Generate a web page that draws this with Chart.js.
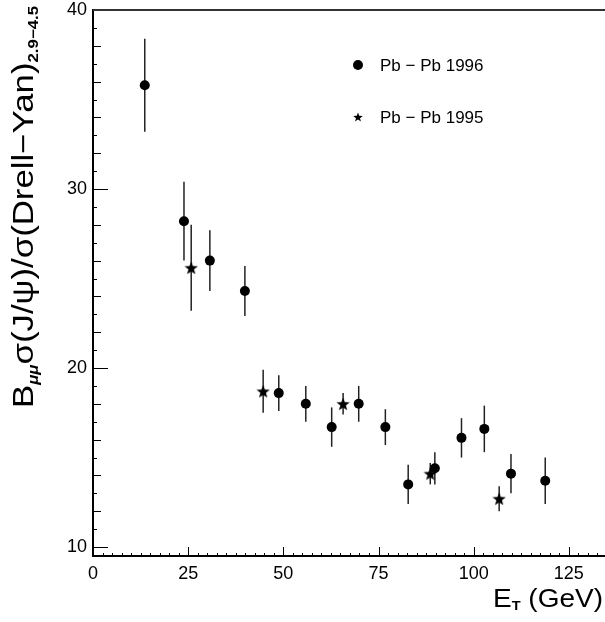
<!DOCTYPE html>
<html>
<head>
<meta charset="utf-8">
<script src="https://cdn.jsdelivr.net/npm/chart.js@4.4.1/dist/chart.umd.min.js"></script>
<style>
  html, body { margin: 0; padding: 0; background: #fff; overflow: hidden; }
  canvas { display: block; }
</style>
</head>
<body>
<canvas id="jpsiChart" width="605" height="622"></canvas>
<script>
// J/psi over Drell-Yan ratio vs transverse energy, two Pb-Pb runs
var et1996 = [13.6, 23.9, 30.7, 39.9, 48.8, 55.9, 62.7, 69.8, 76.8, 82.8, 89.8, 96.8, 102.8, 109.8, 118.8];
var ratio1996 = [35.8, 28.2, 26.0, 24.3, 18.6, 18.0, 16.7, 18.0, 16.7, 13.5, 14.4, 16.1, 16.6, 14.1, 13.7];
var err1996 = [2.6, 2.2, 1.7, 1.4, 1.0, 1.0, 1.1, 1.0, 1.0, 1.1, 0.9, 1.1, 1.3, 1.1, 1.3];

var et1995 = [25.8, 44.7, 65.7, 88.6, 106.7];
var ratio1995 = [25.6, 18.7, 18.0, 14.1, 12.7];
var err1995 = [2.4, 1.2, 0.6, 0.6, 0.7];

var xTicks = [0, 25, 50, 75, 100, 125];
var yTicks = [10, 20, 30, 40];
var legendLabels = ["Pb \u2212 Pb 1996", "Pb \u2212 Pb 1995"];

var FONT = "'Liberation Sans', Arial, Helvetica, sans-serif";

function makeStar(size) {
    var c = document.createElement("canvas");
    c.width = size;
    c.height = size;
    var g = c.getContext("2d");
    var cx = size / 2, cy = size / 2 + size * 0.05;
    var ro = size / 2, ri = ro * 0.42;
    g.beginPath();
    for (var i = 0; i < 10; i++) {
        var r = i % 2 === 0 ? ro : ri;
        var a = -Math.PI / 2 + i * Math.PI / 5;
        g.lineTo(cx + r * Math.cos(a), cy + r * Math.sin(a));
    }
    g.closePath();
    g.fillStyle = "#000";
    g.fill();
    return c;
}

var starBig = makeStar(14);
var starSmall = makeStar(10);

function toPoints(xs, ys, es) {
    return xs.map(function (x, i) {
        return { x: x, y: ys[i], err: es[i] };
    });
}

// no extra room for edge labels, the frame fills the canvas
function noPad(scale) {
    scale.paddingTop = 0;
    scale.paddingBottom = 0;
    scale.paddingLeft = 0;
    scale.paddingRight = 0;
}

// draws text pieces in a row, with subscripts, stretched along the baseline
function drawPieces(ctx, segs, stretch) {
    ctx.scale(stretch, 1);
    var cx = 0;
    segs.forEach(function (s) {
        ctx.font = s.f;
        ctx.fillText(s.t, cx, s.dy);
        cx += ctx.measureText(s.t).width;
    });
}

// vertical error bars, drawn under the markers
var errorBars = {
    id: "errorBars",
    beforeDatasetsDraw: function (chart) {
        var ctx = chart.ctx;
        var ys = chart.scales.y;
        ctx.save();
        ctx.strokeStyle = "#222";
        ctx.lineWidth = 1.5;
        chart.data.datasets.forEach(function (ds, di) {
            var meta = chart.getDatasetMeta(di);
            meta.data.forEach(function (pt, i) {
                var d = ds.data[i];
                ctx.beginPath();
                ctx.moveTo(pt.x, ys.getPixelForValue(d.y + d.err));
                ctx.lineTo(pt.x, ys.getPixelForValue(d.y - d.err));
                ctx.stroke();
            });
        });
        ctx.restore();
    }
};

// inward tick marks, top frame line, titles and legend
var frame = {
    id: "frame",
    afterDraw: function (chart) {
        var ctx = chart.ctx;
        var a = chart.chartArea;
        var xs = chart.scales.x, ys = chart.scales.y;
        ctx.save();
        ctx.strokeStyle = "#000";
        ctx.lineWidth = 1;

        // x ticks every 2.5
        for (var v = 0; v <= xs.max + 0.01; v += 2.5) {
            var px = Math.round(xs.getPixelForValue(v)) + 0.5;
            var len = (v % 25 === 0) ? 9 : 3;
            ctx.beginPath();
            ctx.moveTo(px, a.bottom);
            ctx.lineTo(px, a.bottom - len);
            ctx.stroke();
        }
        // y ticks every 1
        for (var w = 10; w <= 40; w++) {
            var py = Math.round(ys.getPixelForValue(w)) + 0.5;
            var l = (w % 10 === 0) ? 15 : (w % 2 === 0 ? 8 : 4);
            ctx.beginPath();
            ctx.moveTo(a.left, py);
            ctx.lineTo(a.left + l, py);
            ctx.stroke();
        }

        // top frame line
        ctx.strokeStyle = "#333";
        ctx.lineWidth = 2;
        ctx.beginPath();
        ctx.moveTo(a.left, a.top);
        ctx.lineTo(a.right, a.top);
        ctx.stroke();

        ctx.fillStyle = "#000";
        ctx.textBaseline = "alphabetic";

        // x title: E_T (GeV), right-aligned under the axis
        var xSegs = [
            { t: "E", f: "25px " + FONT, dy: 0 },
            { t: "T", f: "bold 13px " + FONT, dy: 3 },
            { t: " (GeV)", f: "25px " + FONT, dy: 0 }
        ];
        var xw = 0;
        xSegs.forEach(function (s) { ctx.font = s.f; xw += ctx.measureText(s.t).width; });
        var xStretch = 1.12;
        ctx.translate(603 - xw * xStretch, 607);
        drawPieces(ctx, xSegs, xStretch);
        ctx.setTransform(1, 0, 0, 1, 0, 0);

        // y title, rotated
        var ySegs = [
            { t: "B", f: "29px " + FONT, dy: 0 },
            { t: "\u03bc\u03bc", f: "italic bold 14px " + FONT, dy: 5 },
            { t: "\u03c3(J/\u03c8)/\u03c3(Drell\u2212Yan)", f: "29px " + FONT, dy: 0 },
            { t: "2.9\u22124.5", f: "bold 14px " + FONT, dy: 5 }
        ];
        ctx.translate(33, 408);
        ctx.rotate(-Math.PI / 2);
        drawPieces(ctx, ySegs, 1.2);
        ctx.setTransform(1, 0, 0, 1, 0, 0);

        // legend
        ctx.font = "17px " + FONT;
        ctx.textBaseline = "middle";
        ctx.beginPath();
        ctx.arc(358, 65, 5, 0, Math.PI * 2);
        ctx.fill();
        ctx.fillText(legendLabels[0], 380, 66);
        ctx.drawImage(starSmall, 353, 112);
        ctx.fillText(legendLabels[1], 380, 118);

        ctx.restore();
    }
};

document.addEventListener("DOMContentLoaded", function () {
    var ctx = document.getElementById("jpsiChart").getContext("2d");

    var myChart = new Chart(ctx, {
        type: "scatter",
        data: {
            datasets: [
                {
                    label: legendLabels[0],
                    data: toPoints(et1996, ratio1996, err1996),
                    pointStyle: "circle",
                    pointRadius: 5,
                    backgroundColor: "#000",
                    borderColor: "#000",
                    borderWidth: 0,
                },
                {
                    label: legendLabels[1],
                    data: toPoints(et1995, ratio1995, err1995),
                    pointStyle: starBig,
                    pointRadius: 7,
                    backgroundColor: "#000",
                    borderColor: "#000",
                },
            ],
        },
        options: {
            responsive: false,
            animation: false,
            layout: {
                autoPadding: false,
                padding: { left: 0, right: 0, top: 10, bottom: 0 },
            },
            plugins: {
                legend: { display: false },
                tooltip: { enabled: false },
            },
            scales: {
                x: {
                    type: "linear",
                    min: 0,
                    max: 134.5,
                    afterBuildTicks: function (scale) {
                        scale.ticks = xTicks.map(function (v) { return { value: v }; });
                    },
                    afterFit: function (scale) {
                        scale.height = 66;
                        noPad(scale);
                    },
                    grid: { display: false, drawTicks: false },
                    border: { display: true, color: "#000", width: 2 },
                    ticks: {
                        color: "#000",
                        font: { family: FONT, size: 18 },
                        padding: 7,
                        maxRotation: 0,
                    },
                },
                y: {
                    type: "linear",
                    min: 9.5,
                    max: 40,
                    afterBuildTicks: function (scale) {
                        scale.ticks = yTicks.map(function (v) { return { value: v }; });
                    },
                    afterFit: function (scale) {
                        scale.width = 93;
                        noPad(scale);
                    },
                    grid: { display: false, drawTicks: false },
                    border: { display: true, color: "#000", width: 2 },
                    ticks: {
                        color: "#000",
                        font: { family: FONT, size: 18 },
                        padding: 6,
                    },
                },
            },
        },
        plugins: [errorBars, frame],
    });
});
</script>
</body>
</html>
